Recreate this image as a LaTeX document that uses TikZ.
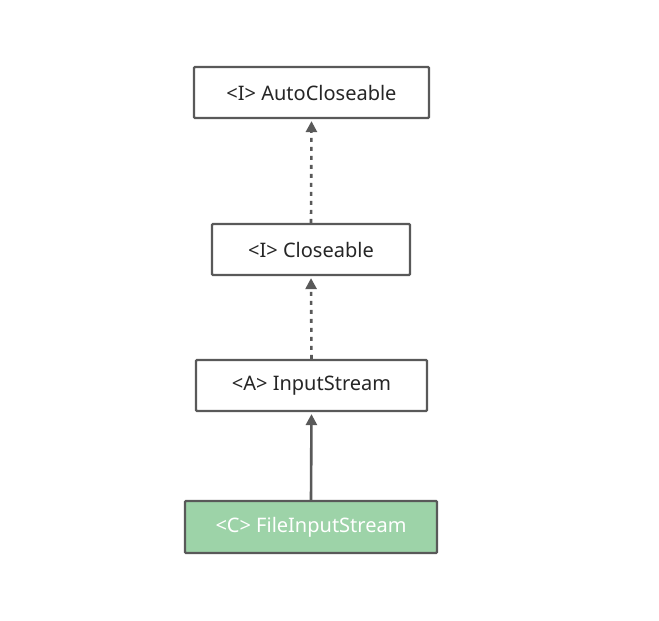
\documentclass[tikz,border=0pt]{standalone}
\usepackage{fontspec}
\setmainfont{Noto Sans}
\usetikzlibrary{arrows.meta}
\definecolor{edge}{HTML}{595959}
\definecolor{fillgreen}{HTML}{9DD3A8}
\begin{document}
\begin{tikzpicture}[x=1pt,y=-1pt,
  box/.style={draw=edge,line width=2.2pt,rounded corners=1pt,fill=white,inner sep=0pt,font=\fontsize{20}{22}\selectfont,text=black!85},
  rel/.style={draw=edge,line width=2.6pt,-{Triangle[length=11pt,width=11pt]},shorten >=2pt},
  impl/.style={rel,dash pattern=on 4pt off 5pt}]
\useasboundingbox (0,0) rectangle (659,621);
\node[box,minimum width=235pt,minimum height=51pt] (auto) at (311.5,92.5) {<I> AutoCloseable};
\node[box,minimum width=198pt,minimum height=51pt] (close) at (311,249.5) {<I> Closeable};
\node[box,minimum width=231pt,minimum height=51pt] (input) at (311.5,385.5) {<A> InputStream};
\node[box,fill=fillgreen,text=white,minimum width=252pt,minimum height=52pt] (file) at (311,527) {<C> FileInputStream};
\draw[impl] (close.north) -- (auto.south);
\draw[impl] (input.north) -- (close.south);
\draw[rel] (file.north) -- (input.south);
\end{tikzpicture}
\end{document}
